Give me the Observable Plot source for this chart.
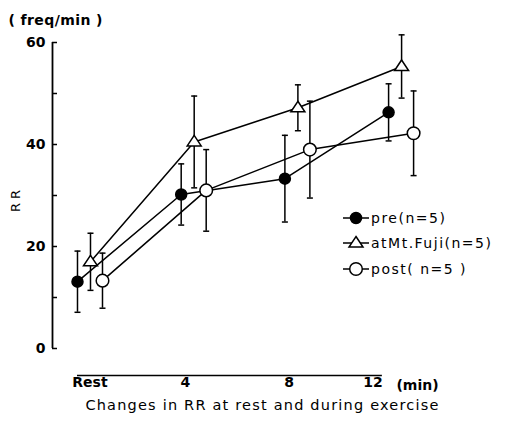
<!DOCTYPE html>
<html><head><meta charset="utf-8">
<script src="https://cdn.jsdelivr.net/npm/d3@7"></script>
<script src="https://cdn.jsdelivr.net/npm/@observablehq/plot@0.6"></script>
<style>
body{margin:0;background:#fff;}
#wrap{position:relative;width:507px;height:423px;font-family:"DejaVu Sans",sans-serif;}
#legend{position:absolute;left:343px;top:205px;font-size:14px;color:#000;letter-spacing:1.5px;}
#legend .row{display:flex;align-items:center;height:25.5px;white-space:nowrap;}
#legend svg{margin-right:2px;}
</style></head><body><div id="wrap"></div>
<script>
// ---- data ----
const times = ["Rest", "4", "8", "12"];
const timeIndex = [0, 1, 2, 3];
const xTickPos = [0.12, 1.04, 2.04, 2.85];
const preMean  = [13.1, 30.2, 33.3, 46.3];
const preSD    = [6.0, 6.0, 8.5, 5.6];
const fujiMean = [17.0, 40.5, 47.2, 55.3];
const fujiSD   = [5.6, 9.0, 4.5, 6.2];
const postMean = [13.3, 31.0, 39.0, 42.2];
const postSD   = [5.4, 8.0, 9.5, 8.3];
const seriesNames = ["pre(n=5)", "atMt.Fuji(n=5)", "post( n=5 )"];
const yTicks  = [0, 10, 20, 30, 40, 50, 60];
const yLabels = [0, 20, 40, 60];
const titleText = "Changes in RR at rest and during exercise";
const unitText = "( freq/min )";

// ---- build ----
const triSymbol = {draw(ctx) { ctx.moveTo(0, -6.5); ctx.lineTo(7, 4); ctx.lineTo(-7, 4); ctx.closePath(); }};
const capSymbol = {draw(ctx) { ctx.moveTo(-3, 0); ctx.lineTo(3, 0); }};

const series = [
  {name: seriesNames[0], mean: preMean,  sd: preSD,  dx: 0,  symbol: "circle", fill: "black", r: 5.5},
  {name: seriesNames[1], mean: fujiMean, sd: fujiSD, dx: 13, symbol: triSymbol, fill: "white", r: 6},
  {name: seriesNames[2], mean: postMean, sd: postSD, dx: 25, symbol: "circle", fill: "white", r: 6.3}
];
const xDomain = [-0.241, 3.597];
const yDomain = [-5.294, 60];
const tickLen = 5 / 103.7;

const lineMarks = [], errMarks = [], dotMarks = [];
for (const s of series) {
  const rows = timeIndex.map((i) => ({i, m: s.mean[i], sd: s.sd[i]}));
  const caps = rows.flatMap((d) => [{i: d.i, y: d.m - d.sd}, {i: d.i, y: d.m + d.sd}]);
  lineMarks.push(Plot.line(rows, {x: "i", y: "m", dx: s.dx, stroke: "black", strokeWidth: 1.5}));
  errMarks.push(Plot.ruleX(rows, {x: "i", y1: (d) => d.m - d.sd, y2: (d) => d.m + d.sd, dx: s.dx, stroke: "black", strokeWidth: 1.5}));
  errMarks.push(Plot.dot(caps, {x: "i", y: "y", dx: s.dx, symbol: capSymbol, stroke: "black", strokeWidth: 1.5, r: 3}));
  dotMarks.push(Plot.dot(rows, {x: "i", y: "m", dx: s.dx, symbol: s.symbol, r: s.r, fill: s.fill, stroke: "black", strokeWidth: 1.5}));
}

const chart = Plot.plot({
  width: 507, height: 423,
  marginLeft: 52, marginRight: 57, marginTop: 42, marginBottom: 48,
  style: {fontFamily: "DejaVu Sans, sans-serif", color: "black", background: "white"},
  x: {domain: xDomain},
  y: {domain: yDomain},
  marks: [
    Plot.ruleX([xDomain[0]], {y1: 0, y2: 60, stroke: "black", strokeWidth: 1.8}),
    Plot.ruleY(yTicks, {x1: xDomain[0], x2: xDomain[0] + tickLen, stroke: "black", strokeWidth: 1.5}),
    Plot.axisY(yLabels, {tickSize: 0, tickPadding: 7, fontSize: 14, fontWeight: "bold", label: null}),
    Plot.ruleY([yDomain[0]], {x1: 0, x2: 2.94, stroke: "black", strokeWidth: 1.5}),
    Plot.axisX(xTickPos, {tickSize: 0, tickPadding: 2, fontSize: 14, fontWeight: "bold", label: null,
      tickFormat: (d) => times[xTickPos.indexOf(d)]}),
    Plot.text(["(min)"], {frameAnchor: "bottom-right", textAnchor: "middle", lineAnchor: "middle", dx: -33, dy: 10, fontSize: 14, fontWeight: "bold"}),
    Plot.text([titleText], {frameAnchor: "bottom", textAnchor: "middle", lineAnchor: "middle", dx: 11, dy: 30, fontSize: 14.5}),
    Plot.text([unitText], {frameAnchor: "top-left", textAnchor: "start", lineAnchor: "middle", dx: -44, dy: -22, fontSize: 14, fontWeight: "bold"}),
    Plot.text(["R R"], {frameAnchor: "left", textAnchor: "middle", lineAnchor: "middle", rotate: -90, dx: -37, dy: -8, fontSize: 13}),
    ...lineMarks,
    ...errMarks,
    ...dotMarks
  ]
});

const svgSel = d3.select(chart);
svgSel.selectAll("text").filter(function () { return this.textContent === titleText; }).style("letter-spacing", "1.2px");
svgSel.selectAll("text").filter(function () { return this.textContent === unitText; }).style("letter-spacing", "0.4px");

const wrap = document.getElementById("wrap");
wrap.appendChild(chart);

// legend
const legend = document.createElement("div");
legend.id = "legend";
for (const s of series) {
  const row = document.createElement("div");
  row.className = "row";
  const sw = d3.create("svg").attr("width", 26).attr("height", 16);
  sw.append("line").attr("x1", 0).attr("x2", 26).attr("y1", 8).attr("y2", 8).attr("stroke", "black").attr("stroke-width", 1.5);
  if (s.symbol === "circle") {
    sw.append("circle").attr("cx", 13).attr("cy", 8).attr("r", s.r).attr("fill", s.fill).attr("stroke", "black").attr("stroke-width", 1.5);
  } else {
    sw.append("path").attr("d", "M13,1.5L20,12L6,12Z").attr("fill", "white").attr("stroke", "black").attr("stroke-width", 1.5);
  }
  row.appendChild(sw.node());
  const t = document.createElement("span");
  t.textContent = s.name;
  row.appendChild(t);
  legend.appendChild(row);
}
wrap.appendChild(legend);
</script>
</body></html>
